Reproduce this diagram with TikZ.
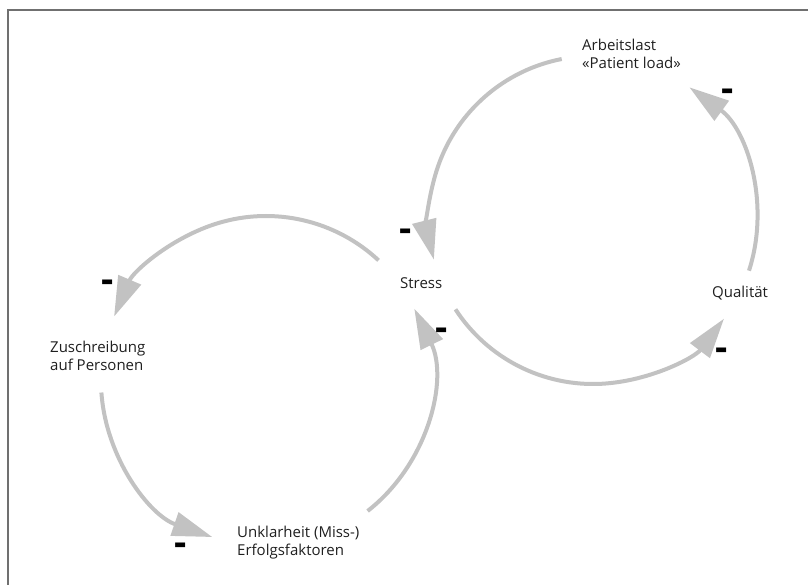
\documentclass[tikz,border=0pt]{standalone}
\usepackage{fontspec}
\setmainfont{Open Sans}
\usetikzlibrary{arrows.meta}
\definecolor{loopgray}{RGB}{194,194,194}
\definecolor{framegray}{RGB}{112,112,112}

\begin{document}
\begin{tikzpicture}[x=1pt,y=1pt,
    every node/.style={font=\fontsize{15}{18.5}\selectfont,text=black!88,inner sep=0pt,align=left,anchor=north west},
    loop/.style={-{Triangle[length=40pt,width=24pt]},line width=4pt,draw=loopgray},
    minus/.style={font=\fontsize{38}{38}\selectfont\bfseries,text=black,anchor=center,yshift=-4.5pt}
]
\useasboundingbox (0,0) rectangle (808,-585);

% Frame
\draw[framegray,line width=2pt] (7.5,-585) -- (7.5,-10) -- (808,-10);

% Circle centres
\coordinate (rc) at (593,-220);
\coordinate (lc) at (266,-381);

% Factors
\node (arbeit) at (582,-38.6) {Arbeitslast\\«Patient load»};
\node (stress) at (400,-277.6) {Stress};
\node (quali) at (712,-286.4) {Qualität};
\node (zuschr) at (50,-340.6) {Zuschreibung\\auf Personen};
\node (unklar) at (237,-525.6) {Unklarheit (Miss-)\\Erfolgsfaktoren};

% Right loop
\draw[loop] ([shift={(101:164)}]rc) arc[start angle=101,end angle=194,radius=164];
\draw[loop] ([shift={(213:164)}]rc) arc[start angle=213,end angle=323,radius=164];
\draw[loop] ([shift={(-18:164)}]rc) arc[start angle=-18,end angle=54,radius=164];

% Left loop
\draw[loop] ([shift={(47:165)}]lc) arc[start angle=47,end angle=157,radius=165];
\draw[loop] ([shift={(184:165)}]lc) arc[start angle=184,end angle=251,radius=165];
\draw[loop] ([shift={(-52:165)}]lc) arc[start angle=-52,end angle=26,radius=165];

% Signs
\node[minus] (m1) at (406,-231) {-};
\node[minus] (m2) at (728,-91) {-};
\node[minus] (m3) at (722,-350) {-};
\node[minus] (m4) at (442,-330) {-};
\node[minus] (m5) at (108,-282) {-};
\node[minus] (m6) at (181,-545) {-};

\end{tikzpicture}
\end{document}
